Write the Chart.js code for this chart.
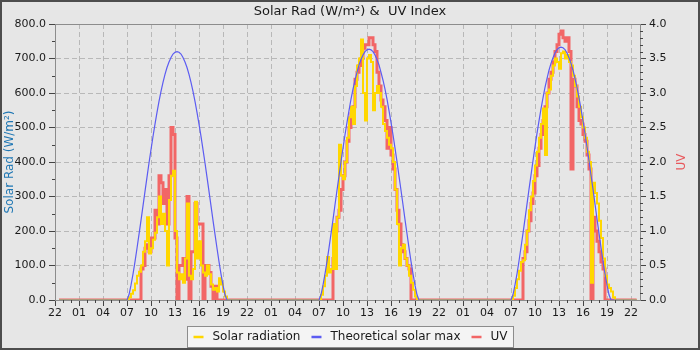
<!DOCTYPE html>
<html>
<head>
<meta charset="utf-8">
<title>Solar Rad &amp; UV Index</title>
<script src="https://cdn.jsdelivr.net/npm/chart.js@4.4.1/dist/chart.umd.min.js"></script>
<style>
    html, body { margin: 0; padding: 0; background: #e6e6e6; }
    #chart { display: block; background: #e6e6e6; }
</style>
</head>
<body>
<canvas id="chart" width="700" height="350"></canvas>
<script>
"use strict";

// x axis is hours since 22:00 on the first evening
const tickLabels = ['22', '01', '04', '07', '10', '13', '16', '19',
                    '22', '01', '04', '07', '10', '13', '16', '19',
                    '22', '01', '04', '07', '10', '13', '16', '19', '22'];
const firstRecord = 0.5;
const lastRecord = 72.7;
const dayStart = [9, 33, 57];   // 07:00 of each day
const step = 0.25;              // 15 minute records

// solar radiation (W/m²), from 07:00
const solarDay1 = [0, 8, 18, 28, 48, 70, 82, 100, 140, 170, 240, 135, 150, 175, 195, 240, 300, 220, 250, 200,
    100, 290, 360, 375, 200, 80, 60, 75, 50, 120, 280, 70, 60, 90, 285, 120, 170, 100, 80, 70,
    100, 75, 45, 30, 35, 25, 63, 45, 25, 10, 0];
const solarDay2 = [0, 15, 40, 70, 125, 80, 90, 220, 90, 240, 450, 360, 350, 400, 470, 530, 560, 510, 620, 680,
    700, 755, 600, 520, 700, 710, 690, 550, 600, 620, 600, 560, 510, 490, 470, 450, 440, 400, 320, 220,
    100, 150, 160, 120, 100, 70, 50, 30, 10, 0];
const solarDay3 = [0, 12, 35, 60, 85, 110, 115, 160, 200, 260, 300, 345, 390, 430, 470, 510, 555, 420, 600, 610,
    650, 680, 700, 690, 670, 715, 720, 700, 710, 690, 680, 650, 620, 590, 560, 530, 500, 470, 430, 400,
    50, 340, 310, 280, 230, 180, 120, 70, 45, 35, 25, 8, 0];

// theoretical clear sky maximum (W/m²), from 07:00
const maxDay1 = [0, 15, 43, 75, 111, 150, 190, 231, 273, 315, 356, 397, 436, 474, 510, 544, 576, 605, 631, 654,
    674, 690, 703, 713, 718, 720, 718, 713, 703, 690, 674, 654, 631, 605, 576, 544, 510, 474, 436, 397,
    356, 315, 273, 231, 190, 150, 111, 75, 43, 15, 0];
const maxDay2 = [0, 15, 43, 76, 112, 151, 192, 233, 276, 318, 359, 401, 440, 479, 515, 549, 582, 611, 637, 660,
    681, 697, 710, 720, 725, 727, 725, 720, 710, 697, 681, 660, 637, 611, 582, 549, 515, 479, 440, 401,
    359, 318, 276, 233, 192, 151, 112, 76, 43, 15, 0];
const maxDay3 = [0, 15, 44, 76, 113, 153, 193, 235, 278, 321, 362, 404, 444, 483, 519, 554, 586, 616, 642, 666,
    686, 702, 716, 726, 731, 733, 731, 726, 716, 702, 686, 666, 642, 616, 586, 554, 519, 483, 444, 404,
    362, 321, 278, 235, 193, 153, 113, 76, 44, 15, 0];

// UV index, from 07:00
const uvDay1 = [0, 0, 0, 0, 0, 0, 0, 0.45, 0.5, 0.75, 0.8, 0.7, 0.9, 0.9, 1.3, 1.1, 1.8, 1.7, 1.4, 1.6,
    1.1, 1.8, 2.5, 2.4, 0.9, 0, 0.5, 0.5, 0.6, 0.3, 1.5, 0, 0.7, 0.7, 1.4, 1.1, 1.1, 1.1, 0, 0.5,
    0.5, 0.4, 0.2, 0, 0.2, 0, 0];
const uvDay2 = [0, 0, 0, 0, 0, 0, 0, 0.6, 1.0, 1.2, 1.3, 1.6, 1.8, 2.0, 2.3, 2.5, 2.7, 2.8, 3.2, 3.3,
    3.4, 3.5, 3.65, 3.7, 3.7, 3.8, 3.8, 3.7, 3.6, 3.3, 3.1, 2.9, 2.8, 2.6, 2.2, 2.5, 2.1, 1.9, 1.6, 1.3,
    1.1, 0.8, 0.7, 0.6, 0.5, 0.45, 0];
const uvDay3 = [0, 0, 0, 0, 0, 0, 0.6, 0.7, 1.0, 1.15, 1.4, 1.55, 1.8, 1.95, 2.2, 2.4, 2.6, 2.8, 3.0, 3.2,
    3.3, 3.45, 3.6, 3.7, 3.85, 3.9, 3.8, 3.75, 3.8, 3.6, 1.9, 3.2, 3.1, 2.8, 2.6, 2.55, 2.4, 2.3, 2.1, 1.9,
    0, 1.2, 1.0, 0.85, 0.7, 0.55, 0.45, 0];

// nights are zero, so only the daylight records are listed
function toPoints(days) {
    const pts = [{x: firstRecord, y: 0}];
    days.forEach((vals, d) => {
        vals.forEach((v, i) => pts.push({x: dayStart[d] + i * step, y: v}));
    });
    pts.push({x: lastRecord, y: 0});
    return pts;
}

Chart.defaults.font.family = '"DejaVu Sans", sans-serif';
Chart.defaults.font.size = 11;
Chart.defaults.color = '#1a1a1a';

//--------------------------------small extra ticks---------------------------------
const minorTicks = {
    id: 'minorTicks',
    afterDraw(chart) {
        const {ctx, chartArea: area, scales} = chart;
        const len = 3;
        ctx.save();
        ctx.strokeStyle = '#444';
        ctx.lineWidth = 1;
        ctx.beginPath();
        for (let h = 1; h < 73; h++) {
            if (h % 3 === 0) continue;
            const x = Math.round(scales.x.getPixelForValue(h)) + 0.5;
            ctx.moveTo(x, area.bottom);
            ctx.lineTo(x, area.bottom + len);
        }
        for (let w = 50; w < 800; w += 100) {
            const y = Math.round(scales.y.getPixelForValue(w)) + 0.5;
            ctx.moveTo(area.left - len, y);
            ctx.lineTo(area.left, y);
        }
        for (let i = 1; i < 40; i++) {
            if (i % 5 === 0) continue;
            const y = Math.round(scales.y1.getPixelForValue(i / 10)) + 0.5;
            ctx.moveTo(area.right, y);
            ctx.lineTo(area.right + len, y);
        }
        ctx.stroke();
        ctx.restore();
    }
};

//--------------------------------top edge of the plot---------------------------------
const topEdge = {
    id: 'topEdge',
    beforeDatasetsDraw(chart) {
        const {ctx, chartArea: area} = chart;
        const y = Math.round(area.top) + 0.5;
        ctx.save();
        ctx.strokeStyle = '#8c8c8c';
        ctx.lineWidth = 1;
        ctx.beginPath();
        ctx.moveTo(area.left, y);
        ctx.lineTo(area.right, y);
        ctx.stroke();
        ctx.restore();
    }
};

//--------------------------------right axis title---------------------------------
const sideTitle = {
    id: 'sideTitle',
    afterDraw(chart, args, opts) {
        const {ctx, chartArea: area} = chart;
        ctx.save();
        ctx.translate(area.right + opts.offset, (area.top + area.bottom) / 2);
        ctx.rotate(-Math.PI / 2);
        ctx.font = '12px "DejaVu Sans"';
        ctx.fillStyle = opts.color;
        ctx.textAlign = 'center';
        ctx.textBaseline = 'middle';
        ctx.fillText(opts.text, 0, 0);
        ctx.restore();
    }
};

//--------------------------------legend in a box---------------------------------
const legendBox = {
    id: 'legendBox',
    afterDraw(chart, args, opts) {
        const ctx = chart.ctx;
        ctx.save();
        ctx.font = '12px "DejaVu Sans"';
        const items = chart.data.datasets.map(ds => ({
            text: ds.label, color: ds.borderColor, w: ctx.measureText(ds.label).width
        }));
        const sample = 10, gap = 9, spacing = 11, pad = 6;
        let width = pad * 2 + spacing * (items.length - 1);
        items.forEach(it => { width += sample + gap + it.w; });
        const left = Math.round(chart.width / 2 - width / 2) + 0.5;
        const top = chart.chartArea.bottom + opts.offset + 0.5;
        const mid = top + opts.height / 2;

        ctx.fillStyle = '#f4f4f4';
        ctx.strokeStyle = '#8c8c8c';
        ctx.lineWidth = 1;
        ctx.fillRect(left, top, width, opts.height);
        ctx.strokeRect(left, top, width, opts.height);

        let x = left + pad;
        items.forEach(it => {
            ctx.strokeStyle = it.color;
            ctx.lineWidth = 2.5;
            ctx.beginPath();
            ctx.moveTo(x, mid);
            ctx.lineTo(x + sample, mid);
            ctx.stroke();
            ctx.fillStyle = '#1a1a1a';
            ctx.textBaseline = 'middle';
            ctx.fillText(it.text, x + sample + gap, mid);
            x += sample + gap + it.w + spacing;
        });
        ctx.restore();
    }
};

//--------------------------------outer frame---------------------------------
const frame = {
    id: 'frame',
    afterDraw(chart) {
        const ctx = chart.ctx;
        ctx.save();
        ctx.strokeStyle = '#4d4d4d';
        ctx.lineWidth = 2;
        ctx.strokeRect(1, 1, chart.width - 2, chart.height - 2);
        ctx.restore();
    }
};

const gridColor = '#b8b8b8';
const tickColor = '#444';
const edgeColor = '#8c8c8c';

const solarChart = new Chart(document.getElementById('chart'), {
    type: 'line',
    data: {
        datasets: [{
            label: 'Solar radiation',
            data: toPoints([solarDay1, solarDay2, solarDay3]),
            borderColor: '#ffd700',
            borderWidth: 2,
            stepped: true,
            yAxisID: 'y',
            order: 1
        }, {
            label: 'Theoretical solar max',
            data: toPoints([maxDay1, maxDay2, maxDay3]),
            borderColor: '#5c5cf2',
            borderWidth: 1.2,
            yAxisID: 'y',
            order: 0
        }, {
            label: 'UV',
            data: toPoints([uvDay1, uvDay2, uvDay3]),
            borderColor: '#f26666',
            borderWidth: 3,
            stepped: true,
            yAxisID: 'y1',
            order: 2
        }]
    },
    options: {
        responsive: false,
        animation: false,
        events: [],
        layout: { padding: { left: 0, right: 0, top: 0, bottom: 30 } },
        elements: { point: { radius: 0 }, line: { tension: 0 } },
        plugins: {
            legend: { display: false },
            tooltip: { enabled: false },
            title: {
                display: true,
                text: 'Solar Rad (W/m²) &  UV Index',
                color: '#1a1a1a',
                font: { size: 13, weight: 'normal' },
                padding: { top: 4, bottom: 4.4 }
            },
            sideTitle: { text: 'UV', color: '#e8585c', offset: 42 },
            legendBox: { offset: 26, height: 21 }
        },
        scales: {
            x: {
                type: 'linear',
                min: 0,
                max: 73.125,
                afterFit: s => { s.height = 20; },
                ticks: {
                    stepSize: 3,
                    includeBounds: false,
                    autoSkip: false,
                    maxRotation: 0,
                    padding: 1,
                    callback: v => tickLabels[Math.round(v / 3)]
                },
                grid: { color: gridColor, tickColor: tickColor, tickLength: 6 },
                border: { color: edgeColor, dash: [5, 3] }
            },
            y: {
                position: 'left',
                min: 0,
                max: 800,
                afterFit: s => { s.width = 55; },
                ticks: { stepSize: 100, padding: 3, callback: v => v.toFixed(1) },
                grid: { color: gridColor, tickColor: tickColor, tickLength: 6 },
                border: { color: edgeColor, dash: [5, 3] },
                title: {
                    display: true,
                    text: 'Solar Rad (W/m²)',
                    color: '#1f77b4',
                    font: { size: 12 },
                    padding: { top: 3, bottom: 0 }
                }
            },
            y1: {
                position: 'right',
                min: 0,
                max: 4,
                afterFit: s => { s.width = 60; },
                ticks: { stepSize: 0.5, padding: 3, callback: v => v.toFixed(1) },
                grid: { drawOnChartArea: false, tickColor: tickColor, tickLength: 6 },
                border: { color: edgeColor }
            }
        }
    },
    plugins: [minorTicks, topEdge, sideTitle, legendBox, frame]
});
</script>
</body>
</html>
